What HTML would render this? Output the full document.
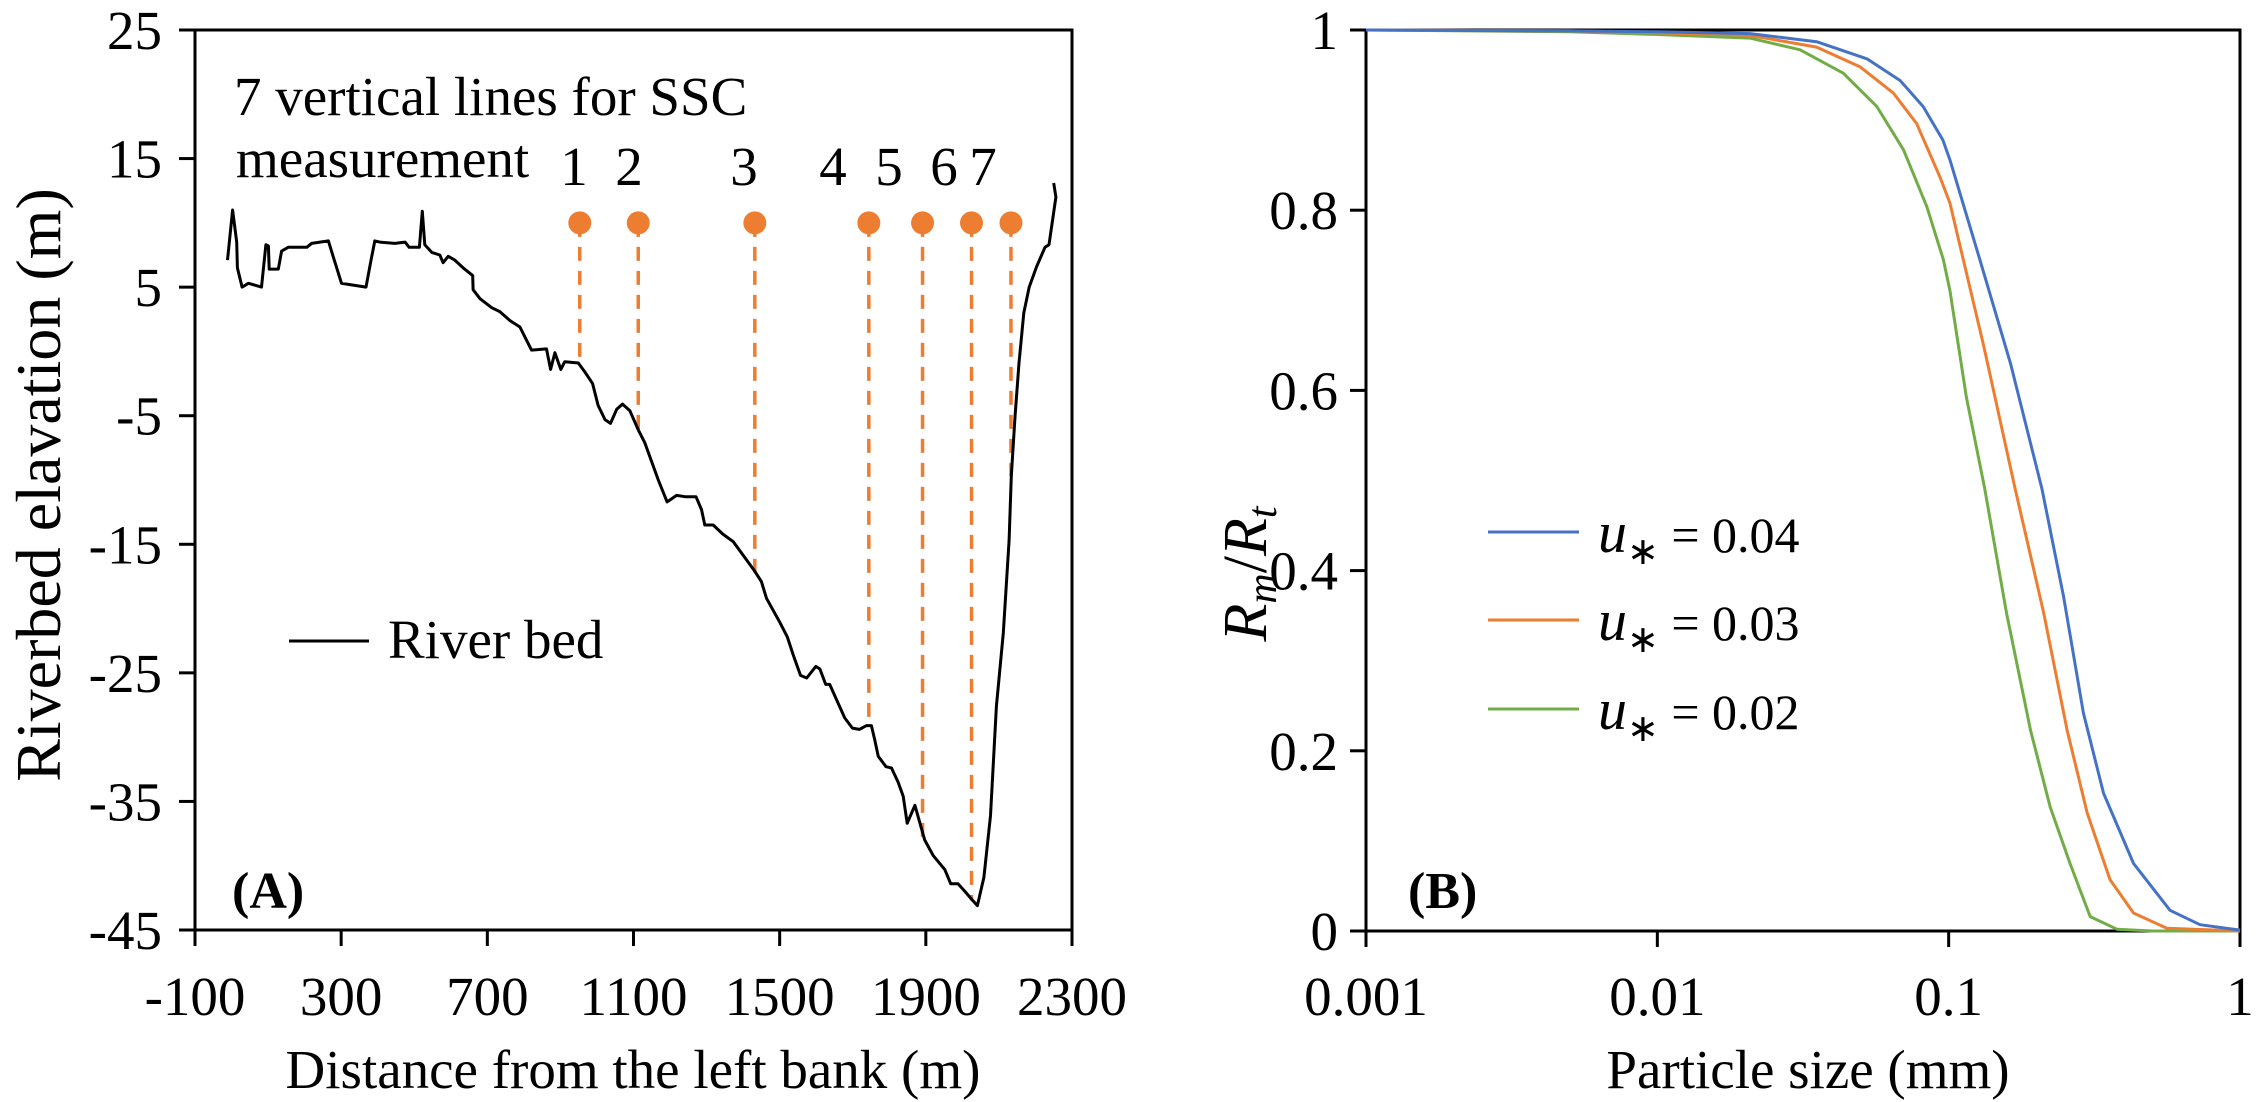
<!DOCTYPE html>
<html><head><meta charset="utf-8"><style>
html,body{margin:0;padding:0;background:#fff;}
svg{display:block;}
text{font-family:"Liberation Serif",serif;fill:#000;}
</style></head><body>
<svg id="fig" width="2257" height="1102" viewBox="0 0 2257 1102" xmlns="http://www.w3.org/2000/svg">
<g id="pa"></g>
<g id="pb"></g>
</svg>
<script>
// ---------- Panel A data ----------
const bedDist = [-11,3,14,16,29,46,82,94,101,103,128,137,155,206,219,265,278,301,324,368,381,392,406,447,475,486,514,522,529,548,570,579,593,611,634,660,661,680,712,734,762,789,821,862,873,885,901,912,949,967,988,1003,1022,1037,1054,1070,1090,1113,1131,1168,1192,1218,1241,1271,1286,1295,1318,1344,1373,1396,1432,1450,1464,1501,1521,1537,1557,1574,1599,1610,1626,1637,1678,1699,1718,1738,1751,1760,1770,1791,1806,1824,1838,1849,1870,1884,1897,1920,1952,1968,1988,2007,2028,2041,2059,2077,2093,2112,2128,2134,2144,2155,2168,2183,2203,2226,2237,2256,2250];
const bedElev = [7.1,11.0,8.5,6.5,5.0,5.3,5.0,8.3,8.2,6.4,6.4,7.8,8.1,8.1,8.4,8.6,7.4,5.3,5.2,5.0,7.0,8.6,8.5,8.4,8.5,8.1,8.1,10.9,8.3,7.7,7.5,6.9,7.4,7.1,6.5,5.9,4.8,4.1,3.4,3.1,2.4,1.9,0.1,0.2,-1.4,-0.1,-1.4,-0.8,-0.9,-1.6,-2.5,-4.2,-5.3,-5.6,-4.5,-4.1,-4.6,-6.1,-7.1,-10.0,-11.7,-11.2,-11.3,-11.3,-12.3,-13.5,-13.5,-14.2,-14.8,-15.7,-17.1,-17.9,-19.2,-21.1,-22.2,-23.6,-25.2,-25.4,-24.5,-24.7,-25.9,-25.9,-28.5,-29.3,-29.4,-29.1,-29.1,-30.2,-31.5,-32.3,-32.4,-33.5,-34.6,-36.7,-35.3,-36.7,-38.0,-39.2,-40.3,-41.4,-41.4,-42.0,-42.7,-43.1,-40.9,-36.1,-27.6,-21.9,-14.7,-9.7,-5.1,-0.9,3.0,5.0,6.6,8.1,8.3,12.0,13.1];
const sscDist = [953,1113,1432,1744,1891,2025,2133];
const sscBottom = [-1.0,-6.1,-17.2,-29.1,-38.0,-42.7,-9.7];
const sscTop = 10;
const sscLabels = ["1","2","3","4","5","6","7"];
const xTicksA = [-100,300,700,1100,1500,1900,2300];
const yTicksA = [25,15,5,-5,-15,-25,-35,-45];

// ---------- Panel B data ----------
const sizeBlue = [0.001,0.005,0.01,0.0208,0.0352,0.0524,0.0681,0.0818,0.0955,0.101,0.128,0.163,0.209,0.248,0.290,0.340,0.431,0.575,0.729,1.0];
const valBlue  = [1.0,0.999,0.998,0.996,0.987,0.968,0.944,0.915,0.878,0.856,0.745,0.630,0.491,0.371,0.242,0.153,0.075,0.023,0.007,0.001];
const sizeOrange = [0.001,0.005,0.01,0.0208,0.0352,0.0497,0.0646,0.0777,0.0933,0.101,0.132,0.169,0.212,0.255,0.299,0.358,0.431,0.561,1.0];
const valOrange  = [1.0,0.999,0.997,0.994,0.981,0.959,0.930,0.896,0.837,0.808,0.649,0.491,0.353,0.223,0.131,0.057,0.020,0.003,0.0];
const sizeGreen = [0.001,0.005,0.01,0.0208,0.0309,0.0435,0.0567,0.070,0.0841,0.0959,0.101,0.115,0.133,0.158,0.191,0.223,0.261,0.306,0.378,0.5,1.0];
const valGreen  = [1.0,0.998,0.995,0.991,0.978,0.952,0.915,0.867,0.804,0.745,0.711,0.593,0.491,0.353,0.223,0.138,0.075,0.016,0.002,0.0,0.0];
const xTicksB = [0.001,0.01,0.1,1];
const xTickLabelsB = ["0.001","0.01","0.1","1"];
const yTicksB = [0,0.2,0.4,0.6,0.8,1];
const yTickLabelsB = ["0","0.2","0.4","0.6","0.8","1"];
const legendB = ["0.04","0.03","0.02"];

const NS="http://www.w3.org/2000/svg";
function mk(parent,tag,attrs,txt){const e=document.createElementNS(NS,tag);for(const k in attrs)e.setAttribute(k,attrs[k]);if(txt!==undefined)e.textContent=txt;parent.appendChild(e);return e;}

const AX0=195,AX1=1072,AY0=30,AY1=930;
function xA(m){return AX0+(m+100)/2400*(AX1-AX0);}
function yA(e){return AY0+(25-e)/70*(AY1-AY0);}
const BX0=1366,BX1=2240,BY0=30,BY1=931;
function xB(d){return BX0+(Math.log10(d)+3)/3*(BX1-BX0);}
function yB(v){return BY1-v*(BY1-BY0);}

// ---------- Panel A ----------
const pa=document.getElementById('pa');
let r=mk(pa,'rect',{x:AX0,y:AY0,width:AX1-AX0,height:AY1-AY0,fill:'none',stroke:'#000','stroke-width':3});


yTicksA.forEach(v=>{
  const l=mk(pa,'line',{x1:AX0-16,x2:AX0,y1:yA(v),y2:yA(v),stroke:'#000','stroke-width':3});
  
  
  const t=mk(pa,'text',{x:162,y:yA(v)+19,'text-anchor':'end','font-size':55},String(v));
  
  
});
xTicksA.forEach(v=>{
  const l=mk(pa,'line',{x1:xA(v),x2:xA(v),y1:AY1,y2:AY1+16,stroke:'#000','stroke-width':3});
  
  
  const t=mk(pa,'text',{x:xA(v),y:1015,'text-anchor':'middle','font-size':55},String(v));
  
  
});
const labelX=[574,629,744,833,889,944,983];
sscDist.forEach((d,i)=>{
  const l=mk(pa,'line',{x1:xA(d),x2:xA(d),y1:yA(sscTop),y2:yA(sscBottom[i]),stroke:'#ED7D31','stroke-width':3.5,'stroke-dasharray':'14 10'});
  
  
  const c=mk(pa,'circle',{cx:xA(d),cy:yA(sscTop),r:11.5,fill:'#ED7D31'});
  
  
  const t=mk(pa,'text',{x:labelX[i],y:185,'text-anchor':'middle','font-size':55},sscLabels[i]);
  
  
});
let pts=bedDist.map((d,i)=>xA(d).toFixed(1)+','+yA(bedElev[i]).toFixed(1)).join(' ');
let pl=mk(pa,'polyline',{points:pts,fill:'none',stroke:'#000','stroke-width':3,'stroke-linejoin':'round'});



let t1=mk(pa,'text',{x:234,y:115,'font-size':55},'7 vertical lines for SSC');


let t2=mk(pa,'text',{x:236,y:177,'font-size':55},'measurement');


let lg=mk(pa,'line',{x1:289,x2:369,y1:641,y2:641,stroke:'#000','stroke-width':3});


let lt=mk(pa,'text',{x:388,y:658,'font-size':55},'River bed');


let pA=mk(pa,'text',{x:232,y:908,'font-size':52,'font-weight':'bold'},'(A)');


let xtA=mk(pa,'text',{x:633,y:1088,'text-anchor':'middle','font-size':55},'Distance from the left bank (m)');


let ytA=mk(pa,'text',{x:0,y:0,'text-anchor':'middle','font-size':64,transform:'translate(60,485) rotate(-90)'},'Riverbed elavation (m)');



// ---------- Panel B ----------
const pb=document.getElementById('pb');
let rb=mk(pb,'rect',{x:BX0,y:BY0,width:BX1-BX0,height:BY1-BY0,fill:'none',stroke:'#000','stroke-width':3});


yTicksB.forEach((v,i)=>{
  const l=mk(pb,'line',{x1:BX0-16,x2:BX0,y1:yB(v),y2:yB(v),stroke:'#000','stroke-width':3});
  
  
  const t=mk(pb,'text',{x:1338,y:yB(v)+19,'text-anchor':'end','font-size':55},yTickLabelsB[i]);
  
  
});
xTicksB.forEach((v,i)=>{
  const l=mk(pb,'line',{x1:xB(v),x2:xB(v),y1:BY1,y2:BY1+16,stroke:'#000','stroke-width':3});
  
  
  const t=mk(pb,'text',{x:xB(v),y:1015,'text-anchor':'middle','font-size':55},xTickLabelsB[i]);
  
  
});
const seriesB=[[sizeBlue,valBlue,'#4472C4','curve-u-0.04'],[sizeOrange,valOrange,'#ED7D31','curve-u-0.03'],[sizeGreen,valGreen,'#70AD47','curve-u-0.02']];
seriesB.slice().reverse().forEach(s=>{
  const p=s[0].map((d,i)=>xB(d).toFixed(1)+','+yB(s[1][i]).toFixed(1)).join(' ');
  const e=mk(pb,'polyline',{points:p,fill:'none',stroke:s[2],'stroke-width':3,'stroke-linejoin':'round'});
  
  
});
const legY=[532,620,709];
seriesB.forEach((s,i)=>{
  const l=mk(pb,'line',{x1:1488,x2:1579,y1:legY[i],y2:legY[i],stroke:s[2],'stroke-width':3});
  
  
  const t=mk(pb,'text',{x:1598,y:legY[i]+20,'font-size':50,'font-family':'Liberation Sans, sans-serif'});
  
  
  mk(t,'tspan',{'font-style':'italic','font-family':'Liberation Serif, serif','font-size':58},'u');
  mk(t,'tspan',{dy:12,'font-size':38},'∗');
  mk(t,'tspan',{dy:-12},' = '+legendB[i]);
});
let pB=mk(pb,'text',{x:1408,y:908,'font-size':52,'font-weight':'bold'},'(B)');


let xtB=mk(pb,'text',{x:1808,y:1088,'text-anchor':'middle','font-size':55},'Particle size (mm)');


let ytB=mk(pb,'text',{x:0,y:0,'text-anchor':'middle','font-size':62,'font-style':'italic',transform:'translate(1266,574) rotate(-90)'});


mk(ytB,'tspan',{},'R');
mk(ytB,'tspan',{dy:10,'font-size':42},'m');
mk(ytB,'tspan',{dy:-10,'font-style':'normal'},'/');
mk(ytB,'tspan',{},'R');
mk(ytB,'tspan',{dy:10,'font-size':42},'t');
</script>
</body></html>
